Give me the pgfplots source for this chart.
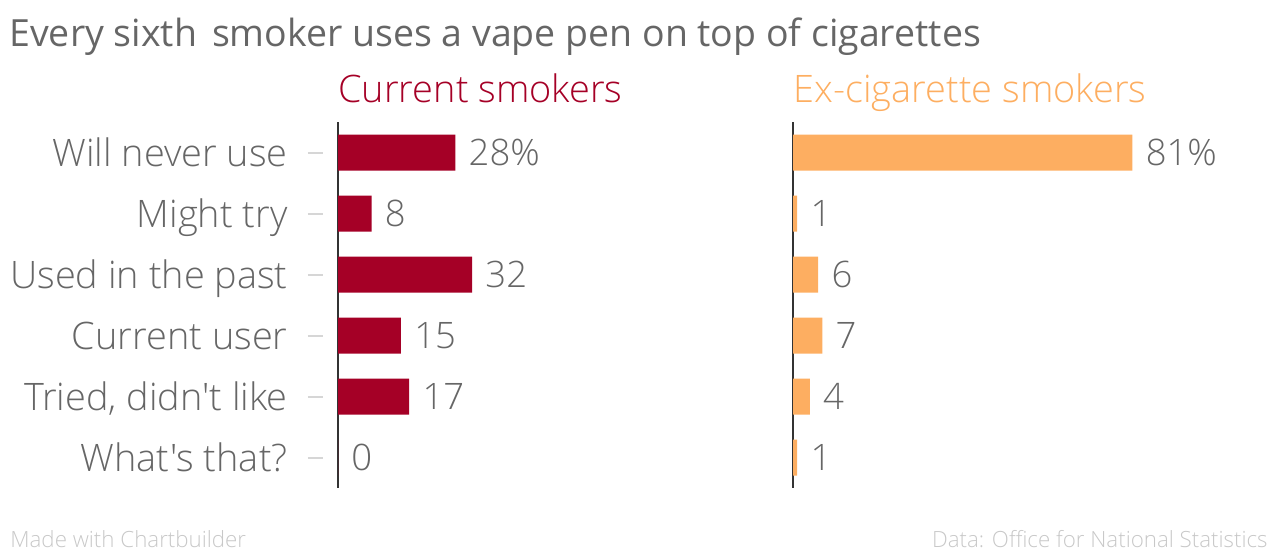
\documentclass[border=0pt]{standalone}
\usepackage{fontspec}
\setmainfont{Open Sans}
\IfFontExistsTF{Open Sans Light}{\newfontfamily\lightfont{Open Sans Light}}{\newfontfamily\lightfont{Open Sans}}
\usepackage{pgfplots}
\pgfplotsset{compat=1.18}
\usepackage{pgfplotstable}
\definecolor{barred}{HTML}{A50026}
\definecolor{barorange}{HTML}{FDAE61}
\definecolor{textgray}{HTML}{666666}
\definecolor{axisdark}{HTML}{333333}
\definecolor{tickgray}{HTML}{D6D6D6}
\definecolor{footgray}{HTML}{C8C8C8}

\pgfplotstableread{
y v lab
0 28 28\%
1 8 8
2 32 32
3 15 15
4 17 17
5 0 0
}\current

\pgfplotstableread{
y v lab
0 81 81\%
1 1 1
2 6 6
3 7 7
4 4 4
5 1 1
}\excig

\pgfplotsset{panel/.style={
  xbar, scale only axis, width=209.5bp, height=183bp,
  xmin=0, xmax=100, ymin=-0.5, ymax=5.5, y dir=reverse,
  bar width=18bp,
  axis x line=none, axis y line=left,
  y axis line style={-, draw=axisdark, line width=1bp},
  xtick=\empty,
  tick align=inside,
  nodes near coords, point meta=explicit symbolic,
  every node near coord/.append style={font=\lightfont\fontsize{18.3}{20}\selectfont, text=textgray, anchor=west, inner sep=0pt, text height=13bp, text depth=0pt, xshift=6.5bp},
  clip=false,
}}

\begin{document}
\begin{tikzpicture}
\path[use as bounding box] (0,0) rectangle (640bp,-277bp);

\begin{axis}[panel, at={(169bp,-244bp)}, anchor=south west,
  ytick={0,1,2,3,4,5},
  yticklabels={Will never use, Might try, Used in the past, Current user, {Tried, didn't like}, What's that?},
  major tick length=7.5bp,
  ytick style={draw=tickgray, line width=1bp, xshift=-15bp},
  yticklabel style={font=\lightfont\fontsize{19}{21}\selectfont, text=textgray, anchor=east, inner sep=0pt, text height=13.5bp, text depth=0pt, xshift=-25bp},
]
\addplot[fill=barred, draw=none] table[x=v, y=y, meta=lab] {\current};
\end{axis}

\begin{axis}[panel, at={(396.5bp,-244bp)}, anchor=south west, ytick=\empty]
\addplot[fill=barorange, draw=none] table[x=v, y=y, meta=lab] {\excig};
\end{axis}

\node[anchor=base west, inner sep=0pt, text=textgray, font=\fontsize{18.8}{22}\selectfont] at (4.5bp,-23bp) {Every sixth\hspace{0.4em}smoker uses a vape pen on top of cigarettes};
\node[anchor=base west, inner sep=0pt, text=barred, font=\lightfont\fontsize{19}{21}\selectfont] at (169bp,-51bp) {Current smokers};
\node[anchor=base west, inner sep=0pt, text=barorange, font=\lightfont\fontsize{19}{21}\selectfont] at (396.5bp,-51bp) {Ex-cigarette smokers};
\node[anchor=base west, inner sep=0pt, text=footgray, font=\lightfont\fontsize{11.2}{13}\selectfont] at (5bp,-273.5bp) {Made with Chartbuilder};
\node[anchor=base east, inner sep=0pt, text=footgray, font=\lightfont\fontsize{11.2}{13}\selectfont] at (634bp,-273.5bp) {Data: Office for National Statistics};
\end{tikzpicture}
\end{document}
